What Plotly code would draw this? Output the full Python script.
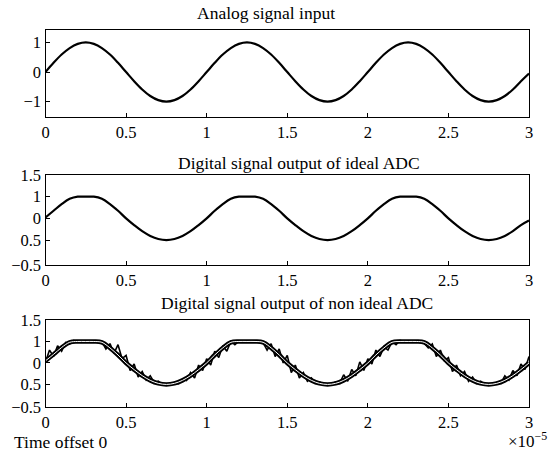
import plotly.graph_objects as go

# time axis (units of 1e-5 s)
t_coarse = [0, 0.05, 0.1, 0.15, 0.2, 0.25, 0.3, 0.35, 0.4, 0.45,
            0.5, 0.55, 0.6, 0.65, 0.7, 0.75, 0.8, 0.85, 0.9, 0.95,
            1.0, 1.05, 1.1, 1.15, 1.2, 1.25, 1.3, 1.35, 1.4, 1.45,
            1.5, 1.55, 1.6, 1.65, 1.7, 1.75, 1.8, 1.85, 1.9, 1.95,
            2.0, 2.05, 2.1, 2.15, 2.2, 2.25, 2.3, 2.35, 2.4, 2.45,
            2.5, 2.55, 2.6, 2.65, 2.7, 2.75, 2.8, 2.85, 2.9, 2.95, 3.0]

t_fine = [0, 0.025, 0.05, 0.075, 0.1, 0.125, 0.15, 0.175, 0.2, 0.225,
          0.25, 0.275, 0.3, 0.325, 0.35, 0.375, 0.4, 0.425, 0.45, 0.475,
          0.5, 0.525, 0.55, 0.575, 0.6, 0.625, 0.65, 0.675, 0.7, 0.725,
          0.75, 0.775, 0.8, 0.825, 0.85, 0.875, 0.9, 0.925, 0.95, 0.975,
          1.0, 1.025, 1.05, 1.075, 1.1, 1.125, 1.15, 1.175, 1.2, 1.225,
          1.25, 1.275, 1.3, 1.325, 1.35, 1.375, 1.4, 1.425, 1.45, 1.475,
          1.5, 1.525, 1.55, 1.575, 1.6, 1.625, 1.65, 1.675, 1.7, 1.725,
          1.75, 1.775, 1.8, 1.825, 1.85, 1.875, 1.9, 1.925, 1.95, 1.975,
          2.0, 2.025, 2.05, 2.075, 2.1, 2.125, 2.15, 2.175, 2.2, 2.225,
          2.25, 2.275, 2.3, 2.325, 2.35, 2.375, 2.4, 2.425, 2.45, 2.475,
          2.5, 2.525, 2.55, 2.575, 2.6, 2.625, 2.65, 2.675, 2.7, 2.725,
          2.75, 2.775, 2.8, 2.825, 2.85, 2.875, 2.9, 2.925, 2.95, 2.975, 3.0]

analog_input = [0, 0.31, 0.59, 0.81, 0.95, 1, 0.95, 0.81, 0.59, 0.31,
                0, -0.31, -0.59, -0.81, -0.95, -1, -0.95, -0.81, -0.59, -0.31,
                0, 0.31, 0.59, 0.81, 0.95, 1, 0.95, 0.81, 0.59, 0.31,
                0, -0.31, -0.59, -0.81, -0.95, -1, -0.95, -0.81, -0.59, -0.31,
                0, 0.31, 0.59, 0.81, 0.95, 1, 0.95, 0.81, 0.59, 0.31,
                0, -0.31, -0.59, -0.81, -0.95, -1, -0.95, -0.81, -0.59, -0.31, -0.05]

ideal_adc = [0.04, 0.35, 0.66, 0.9, 1, 1, 1, 0.9, 0.66, 0.35,
             0, -0.31, -0.59, -0.81, -0.95, -1, -0.95, -0.81, -0.59, -0.31,
             0, 0.35, 0.66, 0.9, 1, 1, 1, 0.9, 0.66, 0.35,
             0, -0.31, -0.59, -0.81, -0.95, -1, -0.95, -0.81, -0.59, -0.31,
             0, 0.35, 0.66, 0.9, 1, 1, 1, 0.9, 0.66, 0.35,
             0, -0.31, -0.59, -0.81, -0.95, -1, -0.95, -0.81, -0.59, -0.31, -0.1]

nonideal_ref = [0.1, 0.4, 0.72, 0.96, 1, 1, 1, 0.96, 0.7, 0.37,
                0, -0.31, -0.59, -0.81, -0.95, -1, -0.95, -0.81, -0.59, -0.31,
                0, 0.37, 0.7, 0.96, 1, 1, 1, 0.96, 0.7, 0.37,
                0, -0.31, -0.59, -0.81, -0.95, -1, -0.95, -0.81, -0.59, -0.31,
                0, 0.37, 0.7, 0.96, 1, 1, 1, 0.96, 0.7, 0.37,
                0, -0.31, -0.59, -0.81, -0.95, -1, -0.95, -0.81, -0.59, -0.31, 0]

nonideal_adc = [0.05, 0.6, 0.3, 0.8, 0.55, 0.95, 0.88, 1.05, 1, 1,
                1, 1, 1, 1, 0.98, 0.65, 0.9, 0.45, 0.85, 0.2,
                0.35, -0.35, -0.05, -0.65, -0.4, -0.8, -0.6, -0.92, -0.85, -1.0,
                -0.97, -1.02, -0.9, -0.96, -0.75, -0.82, -0.45, -0.7, -0.1, -0.35,
                0.2, -0.1, 0.55, 0.25, 0.8, 0.55, 1.0, 0.85, 1.02, 1,
                1, 1, 1, 1, 0.95, 0.6, 0.9, 0.3, 0.65, 0.0,
                0.35, -0.45, -0.1, -0.7, -0.45, -0.85, -0.7, -0.95, -0.88, -1.0,
                -1.0, -0.99, -0.88, -0.95, -0.55, -0.85, -0.3, -0.6, 0.05, -0.35,
                0.2, -0.05, 0.6, 0.3, 0.75, 0.6, 0.98, 0.85, 1.05, 1,
                1, 1, 1, 1, 0.92, 0.7, 0.88, 0.3, 0.6, 0.1,
                0.25, -0.4, -0.1, -0.6, -0.4, -0.85, -0.65, -0.95, -0.85, -1.0,
                -0.99, -1.0, -0.9, -0.95, -0.6, -0.8, -0.35, -0.6, -0.05, -0.3, 0.3]

x_tickvals = [0, 0.5, 1, 1.5, 2, 2.5, 3]
x_ticktext = ["0", "0.5", "1", "1.5", "2", "2.5", "3"]
top_tickvals = [-1, 0, 1]
top_ticktext = ["\u22121", "0", "1"]
mid_tickvals = [-2.14, -1, 0, 1, 1.99]
low_tickvals = [-2.04, -1, 0, 1, 1.99]
adc_ticktext = ["\u22120.5", "0.5", "0", "1", "1.5"]

titles = ["Analog signal input", "Digital signal output of ideal ADC",
          "Digital signal output of non ideal ADC"]

W, H = 554, 452
FONT = "Liberation Serif"

fig = go.Figure()

fig.add_trace(go.Scatter(x=t_coarse, y=analog_input, mode="lines",
                         line=dict(color="black", width=2.2, shape="spline"),
                         xaxis="x", yaxis="y", showlegend=False))
fig.add_trace(go.Scatter(x=t_coarse, y=ideal_adc, mode="lines",
                         line=dict(color="black", width=2.2, shape="spline"),
                         xaxis="x2", yaxis="y2", showlegend=False))
fig.add_trace(go.Scatter(x=t_coarse, y=nonideal_ref, mode="lines",
                         line=dict(color="black", width=4.5, shape="spline"),
                         xaxis="x3", yaxis="y3", showlegend=False))
fig.add_trace(go.Scatter(x=t_fine, y=nonideal_adc, mode="lines",
                         line=dict(color="black", width=1.6),
                         xaxis="x3", yaxis="y3", showlegend=False))
fig.add_trace(go.Scatter(x=t_coarse, y=nonideal_ref, mode="lines",
                         line=dict(color="white", width=1.0, shape="spline"),
                         xaxis="x3", yaxis="y3", showlegend=False))

xdom = [45.5 / W, 529 / W]
boxes = [(30, 117), (175, 265), (320, 407)]
ydoms = [[1 - b / H, 1 - t / H] for t, b in boxes]

common_x = dict(range=[0, 3], tickvals=x_tickvals, ticktext=x_ticktext,
                showline=True, linecolor="black", linewidth=1.2, mirror=True,
                ticks="inside", ticklen=4, tickcolor="black", showgrid=False,
                zeroline=False, automargin=False, domain=xdom,
                tickfont=dict(family=FONT, size=16.5, color="black"))
common_y = dict(showline=True, linecolor="black", linewidth=1.2, mirror=True,
                ticks="inside", ticklen=4, tickcolor="black", showgrid=False,
                zeroline=False, automargin=False,
                tickfont=dict(family=FONT, size=16.5, color="black"))

fig.update_layout(
    width=W, height=H, margin=dict(l=0, r=0, t=0, b=0),
    paper_bgcolor="white", plot_bgcolor="white",
    xaxis=dict(**common_x, anchor="y"),
    xaxis2=dict(**common_x, anchor="y2"),
    xaxis3=dict(**common_x, anchor="y3"),
    yaxis=dict(**common_y, domain=ydoms[0], anchor="x", range=[-1.52, 1.42],
               tickvals=top_tickvals, ticktext=top_ticktext),
    yaxis2=dict(**common_y, domain=ydoms[1], anchor="x2", range=[-2.15, 2.0],
                tickvals=mid_tickvals, ticktext=adc_ticktext),
    yaxis3=dict(**common_y, domain=ydoms[2], anchor="x3", range=[-2.05, 2.0],
                tickvals=low_tickvals, ticktext=adc_ticktext),
)

title_pos = [(266, 13), (299, 163), (297, 303)]
for txt, (tx, ty) in zip(titles, title_pos):
    fig.add_annotation(text=txt, x=tx / W, y=1 - ty / H, xref="paper", yref="paper",
                       xanchor="center", yanchor="middle", showarrow=False,
                       font=dict(family=FONT, size=17.5, color="black"))

fig.add_annotation(text="Time offset 0", x=12 / W, y=1 - 442 / H,
                   xref="paper", yref="paper", xanchor="left", yanchor="middle",
                   showarrow=False, font=dict(family=FONT, size=17.5, color="black"))
fig.add_annotation(text="\u00d710<sup>\u22125</sup>", x=506 / W, y=1 - 440 / H,
                   xref="paper", yref="paper", xanchor="left", yanchor="middle",
                   showarrow=False, font=dict(family=FONT, size=17, color="black"))

fig.write_html("out.html")
